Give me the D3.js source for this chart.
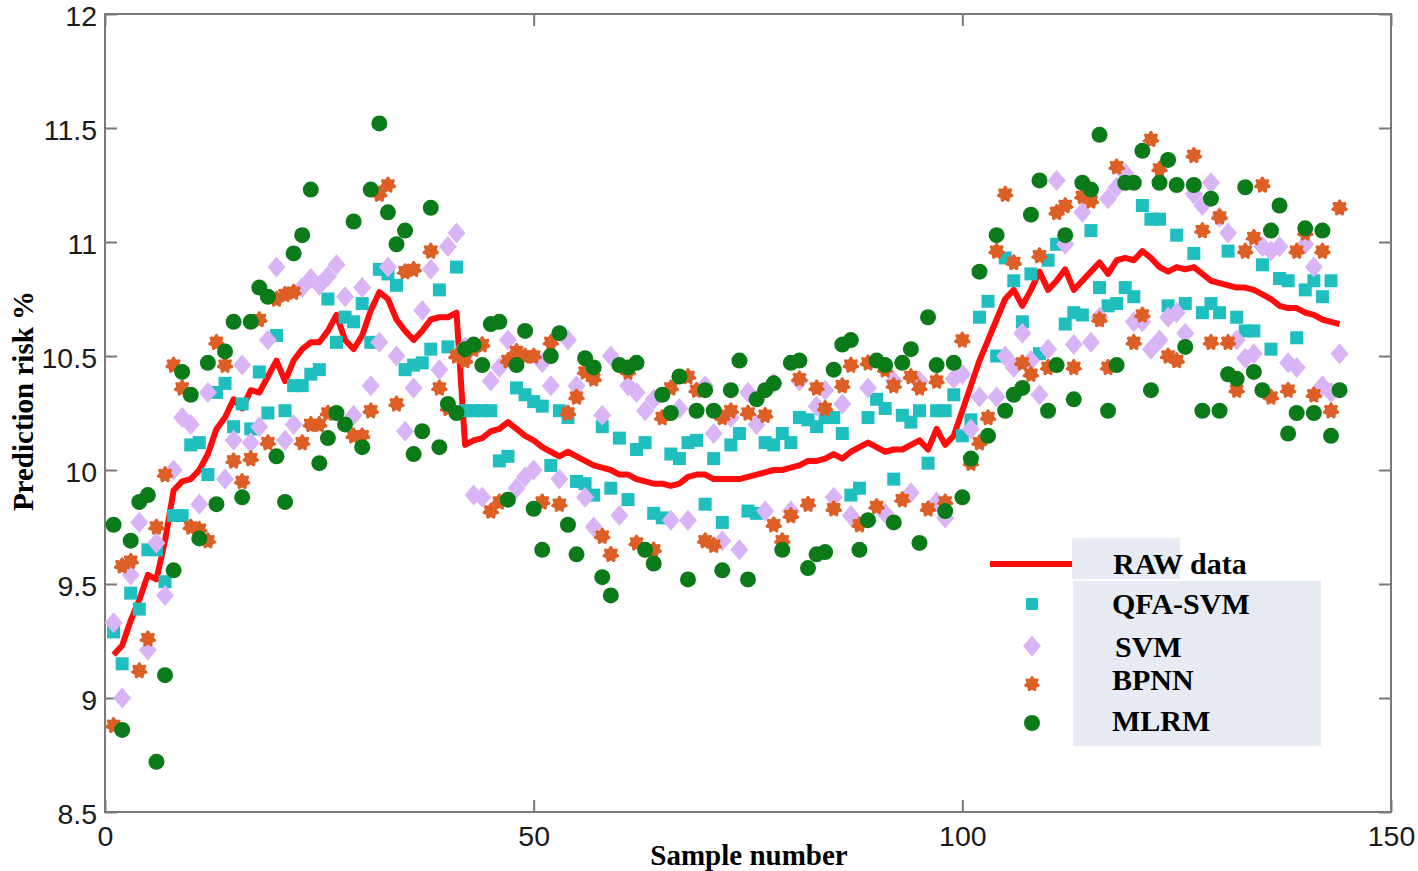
<!DOCTYPE html>
<html><head><meta charset="utf-8">
<script src="https://cdn.jsdelivr.net/npm/d3@7"></script>
<style>body{margin:0;background:#fff}svg{display:block}</style>
</head><body>
<svg id="c" width="1418" height="871"></svg>
<script>
// ---- data ----
const xTicks = [0, 50, 100, 150];
const yTicks = [8.5, 9, 9.5, 10, 10.5, 11, 11.5, 12];
const seriesNames = ["RAW data", "QFA-SVM", "SVM", "BPNN", "MLRM"];

const rawData = [9.19,9.23,9.34,9.43,9.54,9.52,9.69,9.91,9.95,9.96,10.0,10.07,10.18,10.23,10.31,10.27,10.35,10.34,10.41,10.48,
10.39,10.48,10.53,10.56,10.56,10.61,10.68,10.57,10.53,10.59,10.70,10.78,10.75,10.66,10.61,10.57,10.61,10.66,10.67,10.67,
10.69,10.11,10.13,10.14,10.17,10.18,10.21,10.18,10.15,10.13,10.10,10.08,10.06,10.08,10.06,10.04,10.02,10.01,10.0,9.98,
9.98,9.96,9.95,9.94,9.94,9.93,9.94,9.97,9.98,9.98,9.96,9.96,9.96,9.96,9.97,9.98,9.99,10.0,10.0,10.01,
10.02,10.04,10.04,10.05,10.07,10.05,10.08,10.10,10.12,10.10,10.08,10.09,10.09,10.11,10.13,10.09,10.18,10.11,10.15,10.26,
10.37,10.48,10.57,10.66,10.75,10.79,10.72,10.79,10.87,10.79,10.83,10.88,10.79,10.83,10.87,10.91,10.86,10.92,10.93,10.92,
10.96,10.93,10.89,10.87,10.89,10.88,10.89,10.86,10.83,10.82,10.81,10.80,10.80,10.79,10.77,10.75,10.72,10.71,10.71,10.69,
10.68,10.66,10.65,10.64];

const qfaSvm = [[1,9.29],[2,9.15],[3,9.46],[4,9.39],[5,9.65],[6,9.65],[7,9.51],[8,9.80],[9,9.80],[10,10.11],[11,10.12],[12,9.98],
[13,10.34],[14,10.38],[15,10.19],[16,10.29],[17,10.18],[18,10.43],[19,10.25],[20,10.59],[21,10.26],[22,10.37],[23,10.37],[24,10.42],
[25,10.44],[26,10.75],[27,10.56],[28,10.67],[29,10.65],[30,10.73],[31,10.56],[32,10.88],[33,10.86],[34,10.81],[35,10.44],[36,10.46],
[37,10.47],[38,10.53],[39,10.79],[40,10.54],[41,10.89],[42,10.26],[43,10.26],[44,10.26],[45,10.26],[46,10.04],[47,10.06],[48,10.36],
[49,10.33],[50,10.30],[51,10.28],[52,10.02],[53,10.26],[54,10.23],[55,9.95],[56,9.94],[57,9.89],[58,10.19],[59,9.92],[60,10.14],
[61,9.87],[62,10.09],[63,10.12],[64,9.81],[65,9.79],[66,10.07],[67,10.05],[68,10.12],[69,10.13],[70,9.85],[71,10.05],[72,9.77],
[73,10.11],[74,10.16],[75,9.82],[76,9.81],[77,10.12],[78,10.11],[79,10.16],[80,10.12],[81,10.23],[82,10.22],[83,10.19],[84,10.23],
[85,10.23],[86,10.16],[87,9.89],[88,9.92],[89,10.23],[90,10.31],[91,10.27],[92,9.96],[93,10.24],[94,10.21],[95,10.26],[96,10.03],
[97,10.26],[98,10.26],[99,10.33],[100,10.15],[101,10.22],[102,10.67],[103,10.74],[104,10.50],[105,10.93],[106,10.83],[107,10.65],[108,10.86],
[109,10.51],[110,10.92],[111,10.99],[112,10.64],[113,10.69],[114,10.68],[115,11.05],[116,10.80],[117,10.72],[118,10.73],[119,10.80],[120,10.76],
[121,11.16],[122,11.10],[123,11.10],[124,10.72],[125,11.03],[126,10.73],[127,10.95],[128,10.69],[129,10.73],[130,10.69],[131,10.96],[132,10.67],
[133,10.61],[134,10.61],[135,10.90],[136,10.53],[137,10.84],[138,10.83],[139,10.58],[140,10.79],[141,10.83],[142,10.76],[143,10.83]];

const svm = [[1,9.33],[2,9.00],[3,9.54],[4,9.77],[5,9.21],[6,9.68],[7,9.45],[8,10.00],[9,10.23],[10,10.20],[11,9.85],[12,10.34],
[14,9.96],[15,10.13],[16,10.46],[17,10.12],[18,10.19],[19,10.57],[20,10.89],[21,10.13],[22,10.20],[23,10.80],[24,10.84],[25,10.81],
[26,10.85],[27,10.90],[28,10.76],[29,10.24],[30,10.80],[31,10.37],[32,10.56],[33,10.89],[34,10.50],[35,10.17],[36,10.36],[37,10.70],
[38,10.88],[39,10.44],[40,10.98],[41,11.04],[42,10.54],[43,9.89],[44,9.88],[45,10.39],[46,10.45],[47,10.57],[48,9.92],[49,9.97],
[50,10.00],[51,10.47],[52,10.37],[53,9.96],[54,10.57],[55,10.37],[56,9.88],[57,9.75],[58,10.24],[59,10.50],[60,9.80],[61,10.37],
[62,10.34],[63,10.26],[64,10.31],[66,9.78],[67,10.27],[68,9.78],[70,10.37],[71,10.16],[72,9.69],[73,10.23],[74,9.65],[75,10.34],
[76,10.20],[77,9.82],[78,10.38],[80,9.82],[81,10.39],[83,10.28],[84,10.35],[85,9.88],[86,10.29],[87,9.80],[89,10.36],[91,9.81],
[92,10.39],[94,9.90],[95,10.39],[97,9.86],[98,9.79],[99,10.40],[100,10.42],[101,10.18],[102,10.32],[104,10.32],[105,10.50],[106,10.45],
[107,10.60],[108,10.48],[109,10.33],[110,10.53],[111,11.27],[112,10.99],[113,10.55],[114,11.13],[115,10.56],[116,10.67],[117,11.19],[118,11.24],
[119,11.30],[120,10.65],[121,10.65],[122,10.53],[123,10.57],[124,10.67],[125,10.69],[126,10.60],[127,11.21],[128,11.16],[129,11.26],[130,11.11],
[131,11.04],[132,10.57],[133,10.49],[134,10.51],[135,10.98],[136,10.96],[137,10.98],[138,10.47],[139,10.45],[140,10.99],[141,10.89],[142,10.37],
[143,10.34],[144,10.51]];

const bpnn = [[1,8.88],[2,9.58],[3,9.60],[4,9.12],[5,9.26],[6,9.75],[7,9.98],[8,10.46],[9,10.36],[10,9.75],[11,9.74],[12,9.69],
[13,10.56],[14,10.46],[15,10.04],[16,9.95],[17,10.05],[18,10.66],[19,10.12],[20,10.75],[21,10.77],[22,10.78],[23,10.12],[24,10.20],
[25,10.20],[26,10.25],[29,10.15],[30,10.15],[31,10.26],[32,11.21],[33,11.25],[34,10.29],[35,10.87],[36,10.88],[38,10.96],[39,10.36],
[40,10.27],[41,10.50],[42,10.48],[43,10.53],[44,10.55],[45,9.82],[46,9.86],[47,10.48],[48,10.52],[49,10.50],[50,10.50],[51,9.86],
[52,10.56],[53,9.85],[54,10.25],[55,10.32],[56,10.43],[57,10.40],[58,9.71],[59,9.63],[61,10.43],[62,9.68],[64,9.65],[65,10.23],
[66,10.36],[68,10.41],[69,10.35],[70,9.69],[71,9.67],[72,10.23],[73,10.26],[75,10.25],[77,10.24],[78,9.76],[79,9.69],[80,9.80],
[81,10.40],[82,9.85],[83,10.36],[84,10.27],[85,9.83],[86,10.37],[87,10.46],[88,9.76],[89,10.47],[90,9.84],[91,10.44],[92,10.37],
[93,9.87],[94,10.41],[95,10.36],[96,9.83],[97,10.39],[98,9.86],[100,10.57],[101,10.03],[102,10.12],[103,10.23],[104,10.96],[105,11.21],
[106,10.91],[107,10.47],[108,10.42],[109,10.94],[110,10.45],[111,11.13],[112,11.16],[113,10.45],[114,11.20],[115,11.18],[116,10.66],[117,10.45],
[118,11.33],[120,10.56],[121,10.68],[122,11.45],[123,11.32],[124,10.50],[125,10.48],[127,11.38],[128,11.05],[129,10.56],[130,11.11],[131,10.56],
[132,10.35],[133,10.96],[134,11.02],[135,11.25],[136,10.32],[138,10.35],[139,10.96],[140,11.04],[141,10.33],[142,10.96],[143,10.26],[144,11.15]];

const mlrm = [[1,9.76],[2,8.86],[3,9.69],[4,9.86],[5,9.89],[6,8.72],[7,9.10],[8,9.56],[9,10.43],[10,10.33],[11,9.70],[12,10.47],
[13,9.85],[14,10.52],[15,10.65],[16,9.88],[17,10.65],[18,10.80],[19,10.76],[20,10.06],[21,9.86],[22,10.95],[23,11.03],[24,11.23],
[25,10.03],[26,10.14],[27,10.25],[28,10.20],[29,11.09],[30,10.10],[31,11.23],[32,11.52],[33,11.13],[34,10.99],[35,11.05],[36,10.07],
[37,10.17],[38,11.15],[39,10.10],[40,10.29],[41,10.25],[42,10.53],[43,10.55],[44,10.46],[45,10.64],[46,10.65],[47,9.87],[48,10.46],
[49,10.61],[50,9.83],[51,9.65],[52,10.50],[53,10.60],[54,9.76],[55,9.63],[56,10.49],[57,10.45],[58,9.53],[59,9.45],[60,10.46],
[61,10.45],[62,10.47],[63,9.65],[64,9.59],[65,10.33],[66,10.25],[67,10.41],[68,9.52],[69,10.26],[70,10.35],[71,10.26],[72,9.56],
[73,10.35],[74,10.48],[75,9.52],[76,10.31],[77,10.35],[78,10.38],[79,9.65],[80,10.47],[81,10.48],[82,9.57],[83,9.63],[84,9.64],
[85,10.44],[86,10.55],[87,10.57],[88,9.65],[89,9.78],[90,10.48],[91,10.46],[92,9.77],[93,10.47],[94,10.53],[95,9.68],[96,10.67],
[97,10.46],[98,9.82],[99,10.47],[100,9.88],[101,10.05],[102,10.87],[103,10.15],[104,11.03],[105,10.26],[106,10.33],[107,10.36],[108,11.12],
[109,11.27],[110,10.26],[111,10.46],[112,11.03],[113,10.31],[114,11.26],[115,11.23],[116,11.47],[117,10.26],[118,10.46],[119,11.26],[120,11.26],
[121,11.40],[122,10.35],[123,11.26],[124,11.36],[125,11.25],[126,10.54],[127,11.25],[128,10.26],[129,11.19],[130,10.26],[131,10.42],[132,10.40],
[133,11.24],[134,10.43],[135,10.35],[136,11.05],[137,11.16],[138,10.16],[139,10.25],[140,11.06],[141,10.25],[142,11.05],[143,10.15],[144,10.35]];

// ---- drawing ----
const svg = d3.select("#c");
const L = 105, R = 1391, T = 14, B = 812;
const x = d3.scaleLinear().domain([0, 150]).range([L, R]);
const y = d3.scaleLinear().domain([8.5, 12]).range([B, T]);

const col = {raw:"#ff0d0d", qfa:"#1fbfbf", svm:"#d9b5f8", bpnn:"#de5f26", mlrm:"#0b7a18"};
const axisCol = "#7a7a7a";

// frame
svg.append("rect").attr("x", L).attr("y", T).attr("width", R - L).attr("height", B - T)
  .attr("fill", "none").attr("stroke", axisCol).attr("stroke-width", 2);

// axes using d3 axis generators
const tickFont = "'Liberation Sans', Arial, sans-serif";
const yAxis = svg.append("g").attr("transform", `translate(${L},0)`)
  .call(d3.axisLeft(y).tickValues(yTicks).tickFormat(d3.format("")).tickSize(-12).tickPadding(8));
const yAxisR = svg.append("g").attr("transform", `translate(${R},0)`)
  .call(d3.axisRight(y).tickValues(yTicks).tickFormat("").tickSize(-12));
const xAxis = svg.append("g").attr("transform", `translate(0,${B})`)
  .call(d3.axisBottom(x).tickValues(xTicks).tickFormat(d3.format("")).tickSize(-12).tickPadding(14));
const xAxisT = svg.append("g").attr("transform", `translate(0,${T})`)
  .call(d3.axisTop(x).tickValues(xTicks).tickFormat("").tickSize(-12));
[yAxis, yAxisR, xAxis, xAxisT].forEach(g => {
  g.select(".domain").remove();
  g.selectAll(".tick line").attr("stroke", axisCol).attr("stroke-width", 2);
  g.selectAll("text").attr("font-family", tickFont).attr("font-size", 28.5).attr("fill", "#1a1a1a");
});
yAxis.selectAll("text").attr("dy", "0.42em");
xAxis.selectAll("text").attr("dy", "0.71em");

// axis titles
const serif = "'Liberation Serif','Times New Roman',serif";
svg.append("text").attr("x", 749).attr("y", 865).attr("text-anchor", "middle")
  .attr("font-family", serif).attr("font-weight", "bold")
  .attr("font-size", 29).attr("fill", "#000").text("Sample number");
svg.append("text").attr("transform", "translate(33,401) rotate(-90)").attr("text-anchor", "middle")
  .attr("font-family", serif).attr("font-weight", "bold")
  .attr("font-size", 29).attr("fill", "#000").text("Prediction risk %");

// marker shapes
const flower = (r) => {
  const pts = [];
  for (let k = 0; k <= 84; k++) {
    const a = k / 84 * 2 * Math.PI;
    const rr = r * (0.86 + 0.14 * Math.cos(7 * a));
    pts.push([rr * Math.cos(a - Math.PI / 2), rr * Math.sin(a - Math.PI / 2)]);
  }
  return d3.line()(pts) + "Z";
};
const diamond = (w, h) => `M0,${-h}L${w},0L0,${h}L${-w},0Z`;

const plot = svg.append("g");
// raw line
const line = d3.line().x((d, i) => x(i + 1)).y(d => y(d));
plot.append("path").datum(rawData).attr("d", line).attr("fill", "none")
  .attr("stroke", col.raw).attr("stroke-width", 6).attr("stroke-linejoin", "round");

// scatter series
plot.append("g").selectAll("rect").data(qfaSvm).join("rect")
  .attr("x", d => x(d[0]) - 6.5).attr("y", d => y(d[1]) - 6.5).attr("width", 13).attr("height", 13)
  .attr("fill", col.qfa);
plot.append("g").selectAll("path").data(svm).join("path")
  .attr("transform", d => `translate(${x(d[0])},${y(d[1])})`).attr("d", diamond(9, 10.5))
  .attr("fill", col.svm);
plot.append("g").selectAll("path").data(bpnn).join("path")
  .attr("transform", d => `translate(${x(d[0])},${y(d[1])})`).attr("d", flower(8.5))
  .attr("fill", col.bpnn);
plot.append("g").selectAll("circle").data(mlrm).join("circle")
  .attr("cx", d => x(d[0])).attr("cy", d => y(d[1])).attr("r", 8)
  .attr("fill", col.mlrm);

// legend
const lg = svg.append("g");
lg.append("rect").attr("x", 1072).attr("y", 538).attr("width", 108).attr("height", 41).attr("fill", "#e7ebf3");
lg.append("rect").attr("x", 1073).attr("y", 581).attr("width", 248).attr("height", 165).attr("fill", "#e7ebf3");
lg.append("line").attr("x1", 990).attr("x2", 1072).attr("y1", 564).attr("y2", 564)
  .attr("stroke", col.raw).attr("stroke-width", 6);
lg.append("rect").attr("x", 1026).attr("y", 598).attr("width", 12).attr("height", 12).attr("fill", col.qfa);
lg.append("path").attr("transform", "translate(1032,646)").attr("d", diamond(9, 10.5)).attr("fill", col.svm);
lg.append("path").attr("transform", "translate(1032,684)").attr("d", flower(8)).attr("fill", col.bpnn);
lg.append("circle").attr("cx", 1032).attr("cy", 723).attr("r", 8).attr("fill", col.mlrm);
const lgText = [[seriesNames[0], 1113, 574], [seriesNames[1], 1112, 614], [seriesNames[2], 1115, 657],
                [seriesNames[3], 1112, 690], [seriesNames[4], 1112, 731]];
lg.selectAll("text").data(lgText).join("text")
  .attr("x", d => d[1]).attr("y", d => d[2]).text(d => d[0])
  .attr("font-family", serif).attr("font-weight", "bold").attr("font-size", 30).attr("fill", "#000");
</script>
</body></html>
